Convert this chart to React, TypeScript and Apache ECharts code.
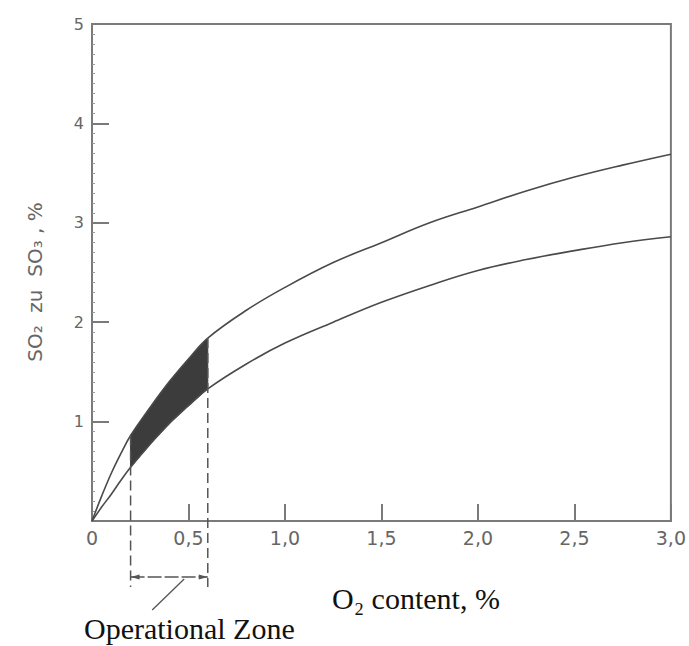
import React, { useEffect, useRef } from "react";
import * as echarts from "echarts";

// O2 content (%) sample points shared by both curves
const o2Content = [0, 0.05, 0.1, 0.15, 0.2, 0.3, 0.4, 0.5, 0.6, 0.8, 1.0, 1.25, 1.5, 1.75, 2.0, 2.25, 2.5, 2.75, 3.0];
// SO2 -> SO3 conversion (%), upper curve
const upperCurve = [0, 0.25, 0.48, 0.68, 0.86, 1.14, 1.4, 1.63, 1.84, 2.12, 2.35, 2.6, 2.8, 3.0, 3.16, 3.32, 3.46, 3.58, 3.69];
// SO2 -> SO3 conversion (%), lower curve
const lowerCurve = [0, 0.14, 0.27, 0.41, 0.54, 0.77, 0.98, 1.16, 1.33, 1.58, 1.79, 2.0, 2.2, 2.37, 2.52, 2.63, 2.72, 2.8, 2.86];
// Operational zone bounds on the O2 axis
const zoneStart = 0.2;
const zoneEnd = 0.6;

const xTickLabels: Record<string, string> = {
  "0": "0", "0.5": "0,5", "1": "1,0", "1.5": "1,5", "2": "2,0", "2.5": "2,5", "3": "3,0",
};

const AXIS_GREY = "#7a7a7a";
const LABEL_GREY = "#666";
const CURVE = "#4a4a4a";
const TICK_FONT = "DejaVu Sans";

export default function App() {
  const ref = useRef<HTMLDivElement>(null);

  useEffect(() => {
    if (!ref.current) return;
    const chart = echarts.init(ref.current, undefined, { renderer: "svg" });

    const upperPts = o2Content.map((x, i) => [x, upperCurve[i]]);
    const lowerPts = o2Content.map((x, i) => [x, lowerCurve[i]]);
    const zoneIdx = o2Content
      .map((x, i) => i)
      .filter((i) => o2Content[i] >= zoneStart && o2Content[i] <= zoneEnd);

    chart.setOption({
      animation: false,
      grid: {
        left: 92, top: 24, right: 16, bottom: 125,
        show: true, borderColor: AXIS_GREY, borderWidth: 2,
      },
      xAxis: {
        type: "value", min: 0, max: 3, interval: 0.5,
        axisLine: { lineStyle: { color: AXIS_GREY, width: 2 } },
        axisTick: { inside: true, length: 17, lineStyle: { color: AXIS_GREY, width: 2 } },
        splitLine: { show: false },
        axisLabel: {
          color: LABEL_GREY, fontFamily: TICK_FONT, fontSize: 19, margin: 7,
          formatter: (v: number) => xTickLabels[String(v)] ?? "",
        },
      },
      yAxis: {
        type: "value", min: 0, max: 5, interval: 1,
        axisLine: { lineStyle: { color: AXIS_GREY, width: 2 } },
        axisTick: { inside: true, length: 17, lineStyle: { color: AXIS_GREY, width: 2 } },
        minorTick: { show: true, splitNumber: 10, length: 3, lineStyle: { color: "#999", width: 1 } },
        splitLine: { show: false },
        axisLabel: {
          color: LABEL_GREY, fontFamily: TICK_FONT, fontSize: 16, margin: 8,
          formatter: (v: number) => (v === 0 ? "" : String(v)),
        },
      },
      series: [
        {
          type: "custom",
          silent: true,
          z: 1,
          data: [0],
          renderItem: (params: any, api: any) => {
            const top = zoneIdx.map((i) => api.coord([o2Content[i], upperCurve[i]]));
            const bottom = zoneIdx.slice().reverse().map((i) => api.coord([o2Content[i], lowerCurve[i]]));
            return {
              type: "polygon",
              shape: { points: top.concat(bottom) },
              style: { fill: "#3c3c3c", stroke: "#3c3c3c", lineWidth: 1 },
            };
          },
        },
        {
          type: "line", data: upperPts, smooth: 0.4, showSymbol: false, z: 3,
          lineStyle: { color: CURVE, width: 1.6 },
        },
        {
          type: "line", data: lowerPts, smooth: 0.4, showSymbol: false, z: 3,
          lineStyle: { color: CURVE, width: 1.6 },
        },
      ],
    });

    // Annotations below the axis: dashed bounds, span arrow and captions
    const p = (x: number, y: number) => chart.convertToPixel({ gridIndex: 0 }, [x, y]) as number[];
    const iStart = o2Content.indexOf(zoneStart);
    const iEnd = o2Content.indexOf(zoneEnd);
    const a0 = p(zoneStart, upperCurve[iStart]);
    const a1 = p(zoneEnd, upperCurve[iEnd]);
    const base = p(0, 0);
    const dashBottom = base[1] + 66;
    const arrowY = base[1] + 56;
    const dash = { stroke: "#555", lineWidth: 1.5, lineDash: [10, 5] };
    const solid = { stroke: "#555", lineWidth: 1.3 };
    const midX = (a0[0] + a1[0]) / 2;

    chart.setOption({
      graphic: [
        { type: "line", shape: { x1: a0[0], y1: a0[1], x2: a0[0], y2: dashBottom }, style: dash, z: 10 },
        { type: "line", shape: { x1: a1[0], y1: a1[1], x2: a1[0], y2: dashBottom }, style: dash, z: 10 },
        { type: "line", shape: { x1: a0[0], y1: arrowY, x2: a1[0], y2: arrowY }, style: { ...solid, lineDash: [14, 3] }, z: 10 },
        { type: "polygon", shape: { points: [[a0[0], arrowY], [a0[0] + 9, arrowY - 2.5], [a0[0] + 9, arrowY + 2.5]] }, style: { fill: "#555" }, z: 10 },
        { type: "polygon", shape: { points: [[a1[0], arrowY], [a1[0] - 9, arrowY - 2.5], [a1[0] - 9, arrowY + 2.5]] }, style: { fill: "#555" }, z: 10 },
        { type: "line", shape: { x1: midX + 15, y1: arrowY + 2, x2: midX - 17, y2: arrowY + 33 }, style: solid, z: 10 },
        {
          type: "text", x: 35, y: 282, rotation: Math.PI / 2,
          style: {
            text: "SO\u2082  zu  SO\u2083 , %", font: "20px 'DejaVu Sans'",
            fill: LABEL_GREY, align: "center", verticalAlign: "middle",
          },
        },
        {
          type: "text", x: 84, y: 628,
          style: { text: "Operational Zone", font: "30px 'Liberation Serif'", fill: "#111", verticalAlign: "middle" },
        },
        {
          type: "text", x: 332, y: 598,
          style: { text: "O\u2082 content, %", font: "30px 'Liberation Serif'", fill: "#111", verticalAlign: "middle" },
        },
      ],
    });

    return () => chart.dispose();
  }, []);

  return <div ref={ref} style={{ width: 689, height: 646, position: "absolute", left: 0, top: 0 }} />;
}
